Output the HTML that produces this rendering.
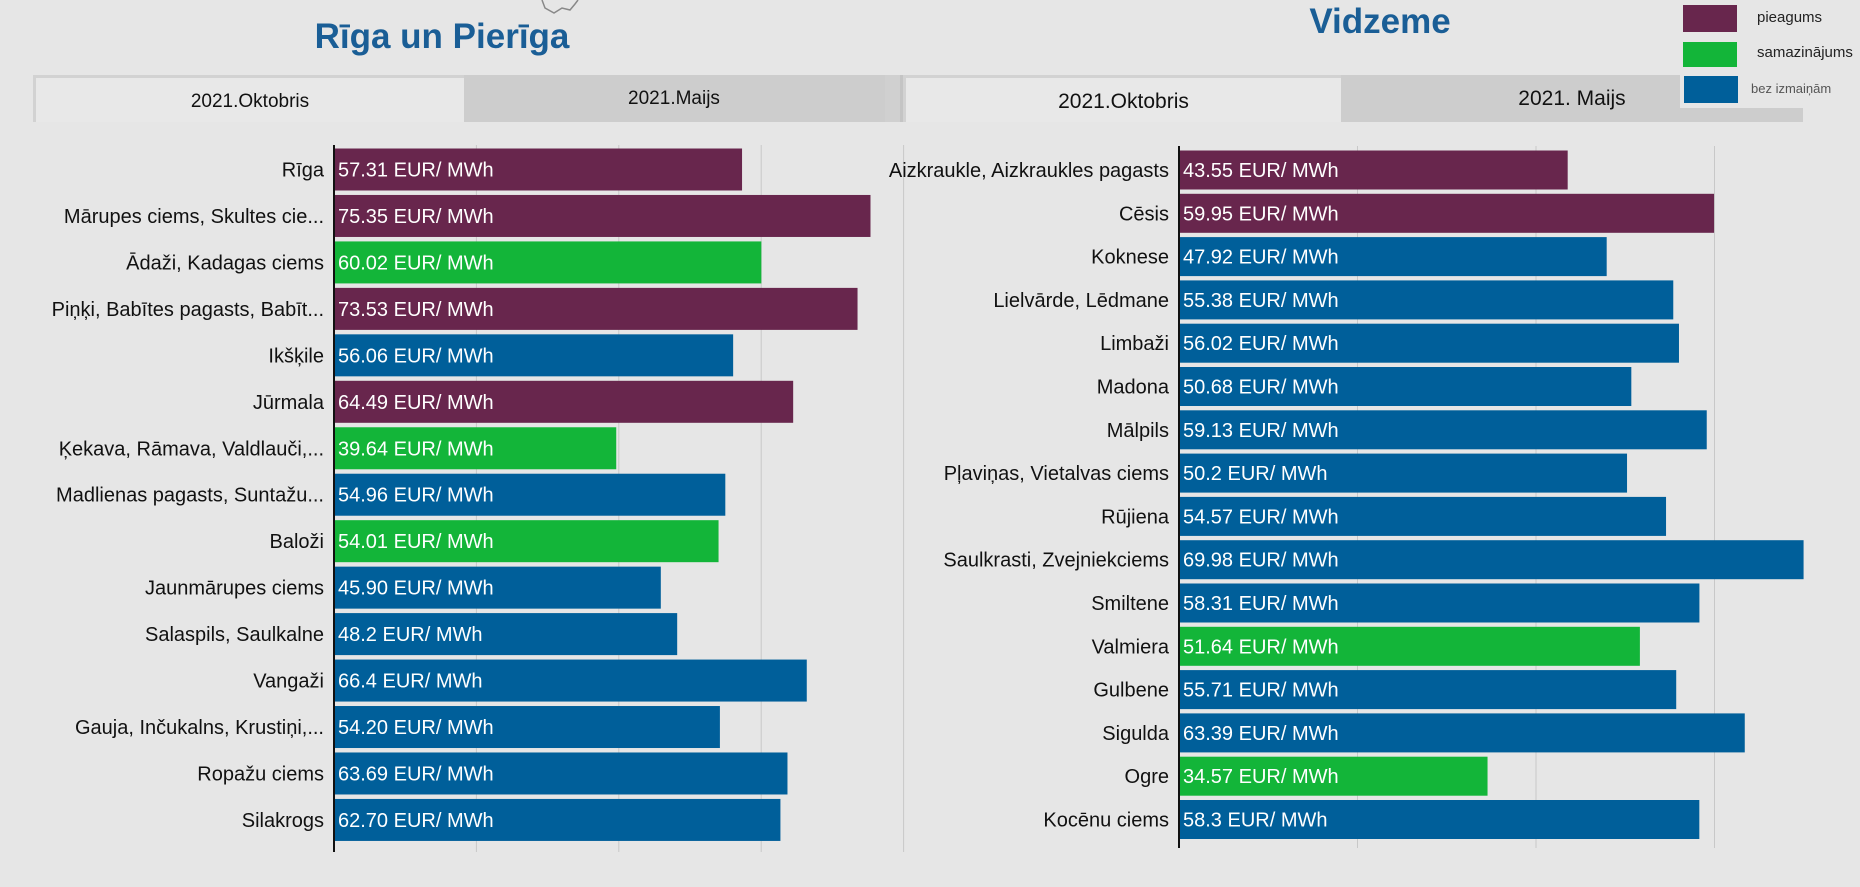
<!DOCTYPE html>
<html><head><meta charset="utf-8">
<style>
body{margin:0;width:1860px;height:887px;background:#e6e6e6;overflow:hidden;font-family:"Liberation Sans","DejaVu Sans",sans-serif;position:relative}
.abs{position:absolute}
.title{color:#1a5e96;font-weight:bold;font-size:35px;text-align:center}
.tab{position:absolute;height:47px;line-height:47px;text-align:center;font-size:19px;color:#111;box-sizing:border-box}
.tab.active{background:#e8e8e8;border-top:3px solid #d2d2d2;border-left:3px solid #d2d2d2}
.tab.inactive{background:#cdcdcd}
.lg{position:absolute;width:54px;height:27px}
.lgt{position:absolute;font-size:15px;color:#222}
</style></head><body>
<svg class="abs" style="left:540px;top:0" width="90" height="14"><polyline points="2,0 5,8 14,13 22,8 30,10 35,4 38,0" fill="none" stroke="#888" stroke-width="1.5"/></svg>
<div class="abs title" style="left:242px;top:17px;width:400px">Rīga un Pierīga</div>
<div class="abs title" style="left:1180px;top:2px;width:400px">Vidzeme</div>

<div class="abs" style="left:33px;top:75px;width:854px;height:47px;background:#cdcdcd"></div>
<div class="tab active" style="left:33px;top:75px;width:431px">2021.Oktobris</div>
<div class="tab inactive" style="left:464px;top:75px;width:420px">2021.Maijs</div>
<div class="abs" style="left:885px;top:75px;width:18px;height:47px;background:#d0d0d0;border-right:3px solid #c4c4c4;box-sizing:border-box"></div>
<div class="abs" style="left:903px;top:75px;width:900px;height:47px;background:#cdcdcd"></div>
<div class="tab active" style="left:903px;top:75px;width:438px;font-size:21px">2021.Oktobris</div>
<div class="tab inactive" style="left:1341px;top:75px;width:462px;font-size:21px">2021. Maijs</div>

<div class="abs" style="left:1680px;top:0;width:180px;height:108px;background:#e6e6e6"></div>
<div class="lg" style="left:1683px;top:5px;background:#68264d"></div>
<div class="lgt" style="left:1757px;top:9px">pieagums</div>
<div class="lg" style="left:1683px;top:42px;height:25px;background:#13b539"></div>
<div class="lgt" style="left:1757px;top:44px">samazinājums</div>
<div class="lg" style="left:1684px;top:76px;background:#005f9a"></div>
<div class="lgt" style="left:1751px;top:81px;font-size:13px;color:#555">bez izmaiņām</div>

<svg class="abs" style="left:0;top:0" width="1860" height="887" id="chart"></svg>
<script>
const leftCats=["Rīga","Mārupes ciems, Skultes cie...","Ādaži, Kadagas ciems","Piņķi, Babītes pagasts, Babīt...","Ikšķile","Jūrmala","Ķekava, Rāmava, Valdlauči,...","Madlienas pagasts, Suntažu...","Baloži","Jaunmārupes ciems","Salaspils, Saulkalne","Vangaži","Gauja, Inčukalns, Krustiņi,...","Ropažu ciems","Silakrogs"];
const leftVals=[57.31,75.35,60.02,73.53,56.06,64.49,39.64,54.96,54.01,45.90,48.2,66.4,54.20,63.69,62.70];
const leftLabels=["57.31","75.35","60.02","73.53","56.06","64.49","39.64","54.96","54.01","45.90","48.2","66.4","54.20","63.69","62.70"];
const leftStatus=["p","p","s","p","b","p","s","b","s","b","b","b","b","b","b"];
const rightCats=["Aizkraukle, Aizkraukles pagasts","Cēsis","Koknese","Lielvārde, Lēdmane","Limbaži","Madona","Mālpils","Pļaviņas, Vietalvas ciems","Rūjiena","Saulkrasti, Zvejniekciems","Smiltene","Valmiera","Gulbene","Sigulda","Ogre","Kocēnu ciems"];
const rightVals=[43.55,59.95,47.92,55.38,56.02,50.68,59.13,50.2,54.57,69.98,58.31,51.64,55.71,63.39,34.57,58.3];
const rightLabels=["43.55","59.95","47.92","55.38","56.02","50.68","59.13","50.2","54.57","69.98","58.31","51.64","55.71","63.39","34.57","58.3"];
const rightStatus=["p","p","b","b","b","b","b","b","b","b","b","s","b","b","s","b"];
const gridTicks=[20,40,60,80];
const colors={p:"#68264d",s:"#13b539",b:"#005f9a"};
const svg=document.getElementById('chart');
const NS="http://www.w3.org/2000/svg";
function mk(t,a){const e=document.createElementNS(NS,t);for(const k in a)e.setAttribute(k,a[k]);svg.appendChild(e);return e;}
function chart(cfg,cats,vals,labels,status,prefix){
  const x=v=>cfg.x0+v*cfg.scale;
  const y=i=>cfg.c0+i*cfg.step;
  gridTicks.forEach(t=>{
    if(x(t)>cfg.xmax)return;
    const g=mk('line',{x1:x(t),x2:x(t),y1:cfg.top,y2:cfg.bot,stroke:'#c8c8c8','stroke-width':1});
    
    
  });
  cats.forEach((c,i)=>{
    const r=mk('rect',{x:x(0),y:y(i)-cfg.bh/2,width:x(vals[i])-x(0),height:cfg.bh,fill:colors[status[i]]});
    
    
    const l=mk('text',{x:x(0)-10,y:y(i)+7,'text-anchor':'end','font-size':20,fill:'#111'});
    l.textContent=c;
    
    
    const v=mk('text',{x:x(0)+4,y:y(i)+7,'font-size':20,fill:'#fff'});
    v.textContent=labels[i]+" EUR/ MWh";
    
    
  });
  const a=mk('line',{x1:x(0),x2:x(0),y1:cfg.top,y2:cfg.bot,stroke:'#111','stroke-width':2});
  
  
}
chart({x0:334,scale:7.12,c0:169.5,step:46.46,bh:42,top:145,bot:852,xmax:910},leftCats,leftVals,leftLabels,leftStatus,'riga');
chart({x0:1179,scale:8.925,c0:170,step:43.3,bh:39,top:146,bot:848,xmax:1800},rightCats,rightVals,rightLabels,rightStatus,'vidzeme');
</script>
</body></html>
